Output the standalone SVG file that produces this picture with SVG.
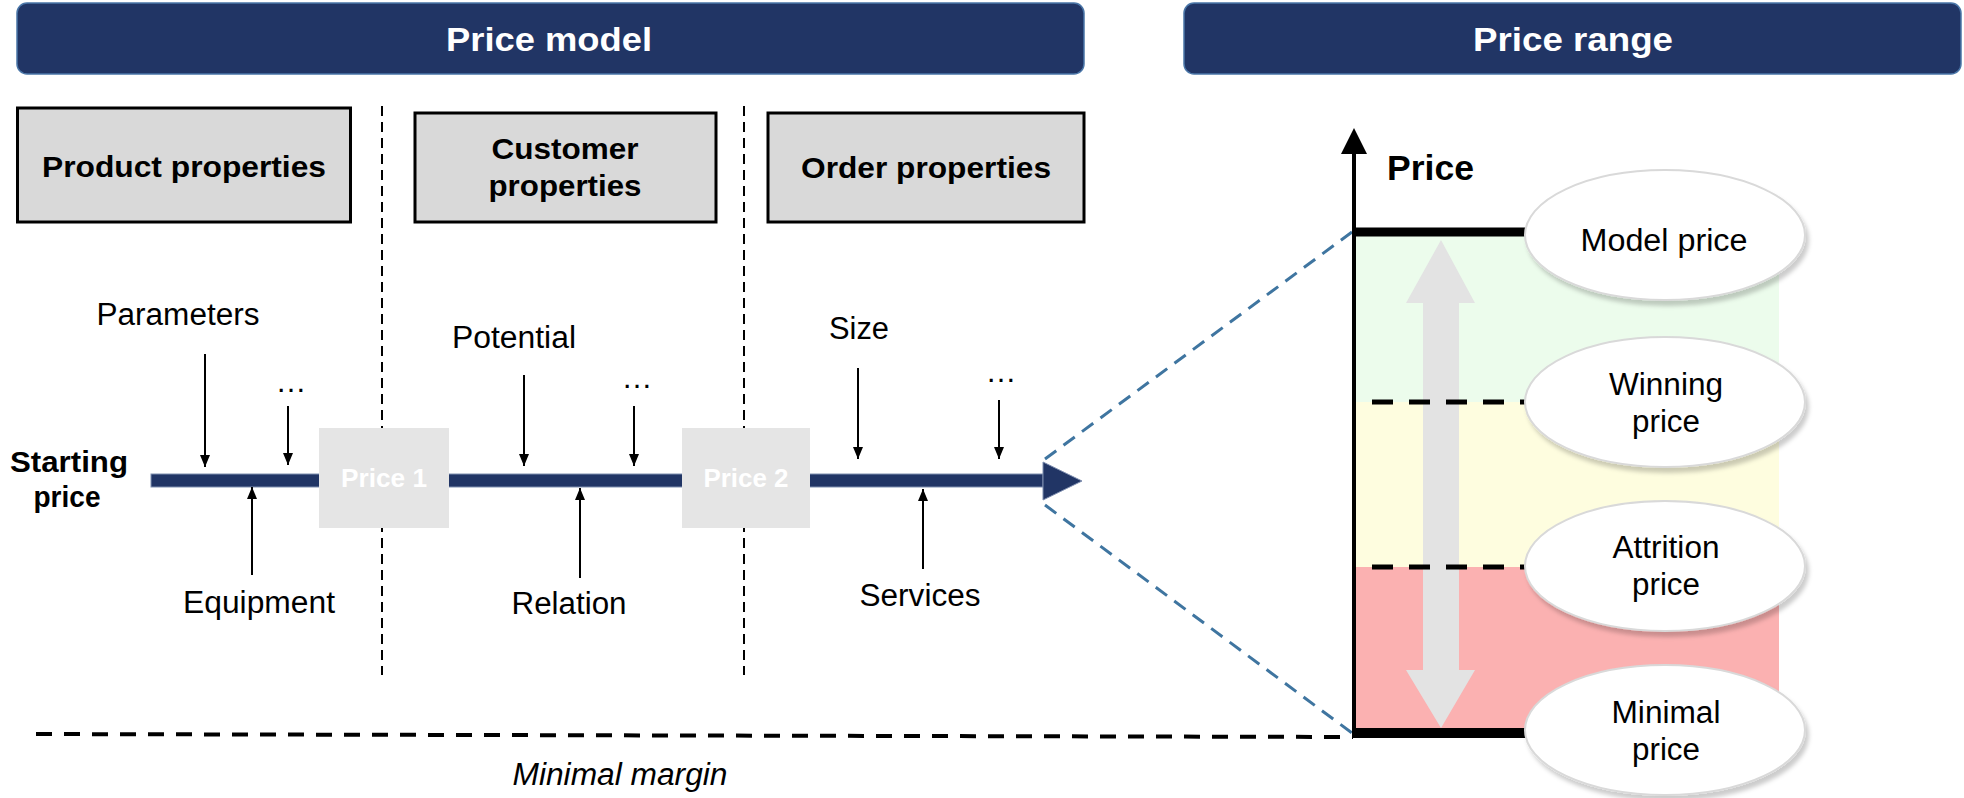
<svg xmlns="http://www.w3.org/2000/svg" width="1964" height="798" viewBox="0 0 1964 798">
<style>
.hdr{fill:#213565;stroke:#4a76a8;stroke-width:1.5}
.hdrt{font-family:"Liberation Sans",Arial,sans-serif;font-weight:bold;font-size:33px;fill:#fff;text-anchor:middle}
.prop{fill:#d9d9d9;stroke:#000;stroke-width:3}
.propt{font-family:"Liberation Sans",Arial,sans-serif;font-weight:bold;font-size:30px;fill:#000;text-anchor:middle}
.lbl{font-family:"Liberation Sans",Arial,sans-serif;font-size:31px;fill:#000;text-anchor:middle}
.bold{font-family:"Liberation Sans",Arial,sans-serif;font-weight:bold;font-size:30px;fill:#000;text-anchor:middle}
.pbox{fill:#e5e5e5}
.pboxt{font-family:"Liberation Sans",Arial,sans-serif;font-weight:bold;font-size:26px;fill:#fff;text-anchor:middle}
.vdash{stroke:#000;stroke-width:2;stroke-dasharray:10 6;fill:none}
.arr{stroke:#000;stroke-width:2;fill:none;marker-end:url(#ah)}
.blue{stroke:#3f75a0;stroke-width:3;stroke-dasharray:14 9;fill:none}
.ell{fill:#fff;stroke:#d9d9d9;stroke-width:2;filter:url(#sh)}
</style>
<defs>
<marker id="ah" viewBox="0 0 12 10" refX="12" refY="5" markerWidth="12" markerHeight="10" markerUnits="userSpaceOnUse" orient="auto">
<path d="M0,0 L12,5 L0,10 z" fill="#000"/>
</marker>
<filter id="sh" x="-10%" y="-10%" width="125%" height="130%">
<feDropShadow dx="3" dy="5" stdDeviation="2" flood-color="#000" flood-opacity="0.2"/>
</filter>
</defs>

<g id="header-price-model">
<rect class="hdr" x="17" y="3" width="1067" height="71" rx="10"/>
<text class="hdrt" x="549" y="51" textLength="206" lengthAdjust="spacingAndGlyphs">Price model</text>
</g>
<g id="header-price-range">
<rect class="hdr" x="1184" y="3" width="777" height="71" rx="10"/>
<text class="hdrt" x="1573" y="51" textLength="200" lengthAdjust="spacingAndGlyphs">Price range</text>
</g>

<g id="separators">
<line class="vdash" x1="382" y1="106" x2="382" y2="675"/>
<line class="vdash" x1="744" y1="106" x2="744" y2="675"/>
</g>

<g id="product-properties">
<rect class="prop" x="17.5" y="108" width="333" height="114"/>
<text class="propt" x="184" y="177" textLength="284" lengthAdjust="spacingAndGlyphs">Product properties</text>
</g>
<g id="customer-properties">
<rect class="prop" x="415" y="113" width="301" height="109"/>
<text class="propt" x="565" y="159" textLength="147" lengthAdjust="spacingAndGlyphs">Customer</text>
<text class="propt" x="565" y="196" textLength="153" lengthAdjust="spacingAndGlyphs">properties</text>
</g>
<g id="order-properties">
<rect class="prop" x="768" y="113" width="316" height="109"/>
<text class="propt" x="926" y="178" textLength="250" lengthAdjust="spacingAndGlyphs">Order properties</text>
</g>

<g id="starting-price">
<text class="bold" x="69" y="472" textLength="118" lengthAdjust="spacingAndGlyphs">Starting</text>
<text class="bold" x="67" y="507" textLength="67" lengthAdjust="spacingAndGlyphs">price</text>
</g>

<g id="flow">
<rect x="151" y="474" width="892" height="13" fill="#213565" stroke="#7f8fb0" stroke-width="1"/>
<path d="M1043,462 L1082,481 L1043,500 z" fill="#213565" stroke="#7f8fb0" stroke-width="1"/>
</g>

<g id="price-1">
<rect class="pbox" x="319" y="428" width="130" height="100"/>
<text class="pboxt" x="384" y="487" textLength="86" lengthAdjust="spacingAndGlyphs">Price 1</text>
</g>
<g id="price-2">
<rect class="pbox" x="682" y="428" width="128" height="100"/>
<text class="pboxt" x="746" y="487" textLength="85" lengthAdjust="spacingAndGlyphs">Price 2</text>
</g>

<g id="connectors">
<line class="arr" x1="205" y1="354" x2="205" y2="467"/>
<line class="arr" x1="288" y1="406" x2="288" y2="465"/>
<line class="arr" x1="252" y1="575" x2="252" y2="487"/>
<line class="arr" x1="524" y1="375" x2="524" y2="466"/>
<line class="arr" x1="634" y1="406" x2="634" y2="466"/>
<line class="arr" x1="580" y1="578" x2="580" y2="488"/>
<line class="arr" x1="858" y1="368" x2="858" y2="459"/>
<line class="arr" x1="999" y1="400" x2="999" y2="459"/>
<line class="arr" x1="923" y1="569" x2="923" y2="489"/>
<line class="blue" x1="1045" y1="459" x2="1352" y2="232"/>
<line class="blue" x1="1045" y1="505" x2="1352" y2="733"/>
<line x1="36" y1="734" x2="1353" y2="737" stroke="#000" stroke-width="4" stroke-dasharray="16 12"/>
</g>

<g id="labels">
<text class="lbl" x="178" y="325" textLength="163" lengthAdjust="spacingAndGlyphs">Parameters</text>
<text class="lbl" x="291" y="392">…</text>
<text class="lbl" x="259" y="613" textLength="152" lengthAdjust="spacingAndGlyphs">Equipment</text>
<text class="lbl" x="514" y="348" textLength="124" lengthAdjust="spacingAndGlyphs">Potential</text>
<text class="lbl" x="637" y="388">…</text>
<text class="lbl" x="569" y="614" textLength="115" lengthAdjust="spacingAndGlyphs">Relation</text>
<text class="lbl" x="859" y="339" textLength="60" lengthAdjust="spacingAndGlyphs">Size</text>
<text class="lbl" x="1001" y="382">…</text>
<text class="lbl" x="920" y="606" textLength="121" lengthAdjust="spacingAndGlyphs">Services</text>
<text class="lbl" x="620" y="785" font-style="italic" textLength="215" lengthAdjust="spacingAndGlyphs">Minimal margin</text>
</g>

<g id="price-chart">
<rect x="1354" y="236" width="425" height="166" fill="#ecfcec"/>
<rect x="1354" y="402" width="425" height="165" fill="#fefddf"/>
<rect x="1354" y="567" width="425" height="162" fill="#fbb1b1"/>
<polygon points="1441,240 1475,303 1459,303 1459,670 1475,670 1441,728 1406,670 1423,670 1423,303 1406,303" fill="#e3e3e3"/>
<line x1="1354" y1="150" x2="1354" y2="738" stroke="#000" stroke-width="4"/>
<polygon points="1354,128 1367,154 1341,154" fill="#000"/>
<text x="1387" y="180" font-family="Liberation Sans, Arial, sans-serif" font-weight="bold" font-size="35" textLength="87" lengthAdjust="spacingAndGlyphs">Price</text>
<line x1="1352" y1="232" x2="1560" y2="232" stroke="#000" stroke-width="9"/>
<line x1="1352" y1="733" x2="1560" y2="733" stroke="#000" stroke-width="10"/>
<line x1="1372" y1="402" x2="1560" y2="402" stroke="#000" stroke-width="5" stroke-dasharray="21 16"/>
<line x1="1372" y1="567" x2="1560" y2="567" stroke="#000" stroke-width="5" stroke-dasharray="21 16"/>
</g>

<g id="model-price">
<ellipse class="ell" cx="1665" cy="235" rx="140" ry="65"/>
<text class="lbl" x="1664" y="251" textLength="167" lengthAdjust="spacingAndGlyphs">Model price</text>
</g>
<g id="winning-price">
<ellipse class="ell" cx="1665" cy="402" rx="140" ry="65"/>
<text class="lbl" x="1666" y="395" textLength="114" lengthAdjust="spacingAndGlyphs">Winning</text>
<text class="lbl" x="1666" y="432" textLength="68" lengthAdjust="spacingAndGlyphs">price</text>
</g>
<g id="attrition-price">
<ellipse class="ell" cx="1665" cy="566" rx="140" ry="65"/>
<text class="lbl" x="1666" y="558" textLength="107" lengthAdjust="spacingAndGlyphs">Attrition</text>
<text class="lbl" x="1666" y="595" textLength="68" lengthAdjust="spacingAndGlyphs">price</text>
</g>
<g id="minimal-price">
<ellipse class="ell" cx="1665" cy="730" rx="140" ry="65"/>
<text class="lbl" x="1666" y="723" textLength="109" lengthAdjust="spacingAndGlyphs">Minimal</text>
<text class="lbl" x="1666" y="760" textLength="68" lengthAdjust="spacingAndGlyphs">price</text>
</g>
</svg>
